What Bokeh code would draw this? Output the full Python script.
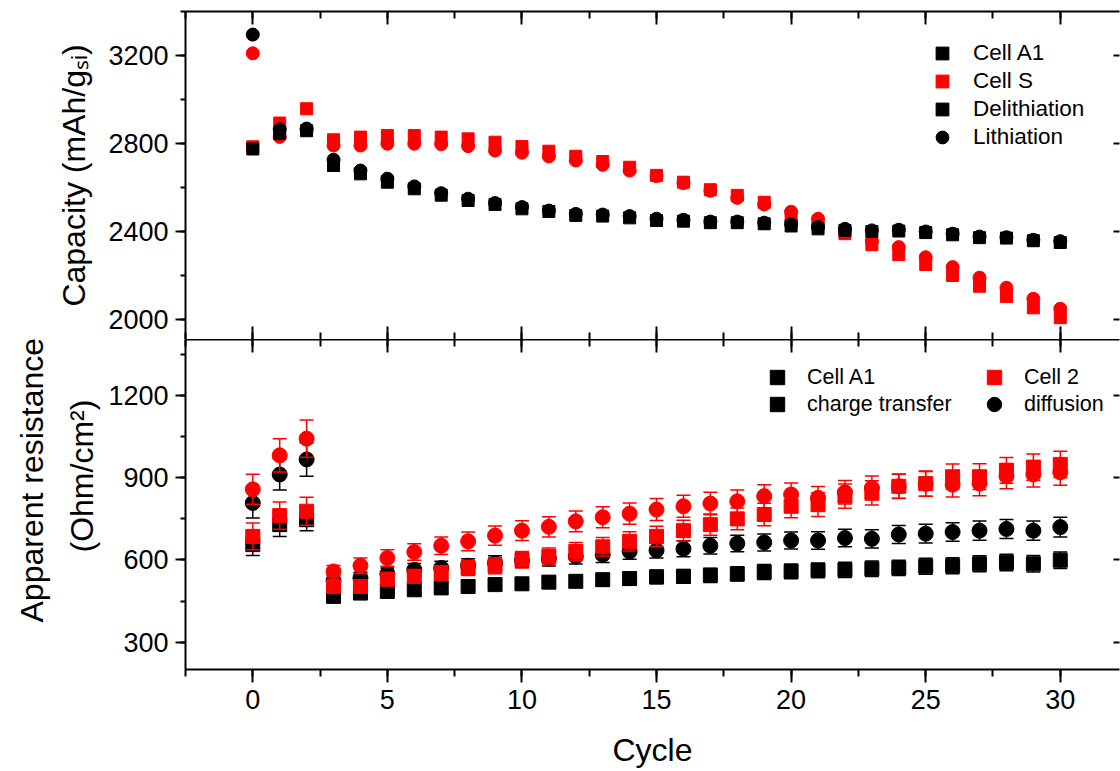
import math
from bokeh.plotting import figure
from bokeh.layouts import column
from bokeh.models import (ColumnDataSource, Whisker, TeeHead, Legend, LegendItem,
                          LinearAxis, SingleIntervalTicker, Range1d, Title)
from bokeh.embed import file_html
from bokeh.resources import INLINE

FONT = "Liberation Sans"
BLACK = "#000000"
RED = "#ff0000"

# ---------------- data ----------------
cycles = list(range(31))

# Capacity (mAh/g_Si)
cap_a1_delith = [2775, 2845, 2858, 2700, 2662, 2624, 2594, 2565, 2541, 2523, 2503,
                 2491, 2473, 2470, 2462, 2450, 2447, 2440, 2440, 2435, 2425,
                 2412, 2405, 2400, 2402, 2395, 2385, 2372, 2370, 2358, 2350]
cap_a1_lith = [3295, 2865, 2868, 2726, 2677, 2640, 2605, 2574, 2549, 2529, 2511,
               2495, 2480, 2477, 2470, 2458, 2453, 2445, 2445, 2440, 2432,
               2420, 2412, 2405, 2408, 2400, 2390, 2377, 2374, 2362, 2356]
cap_s_delith = [2785, 2893, 2958, 2817, 2829, 2836, 2836, 2829, 2821, 2806, 2786,
                2765, 2742, 2718, 2692, 2655, 2624, 2590, 2564, 2533, 2470,
                2430, 2390, 2340, 2295, 2250, 2200, 2151, 2105, 2053, 2008]
cap_s_lith = [3210, 2830, 2862, 2791, 2791, 2799, 2799, 2797, 2788, 2768, 2758,
              2741, 2723, 2703, 2677, 2652, 2620, 2585, 2553, 2523, 2490,
              2458, 2405, 2355, 2329, 2283, 2238, 2190, 2144, 2094, 2049]

# Apparent resistance (Ohm/cm^2)
rct_a1 = [656, 729, 747, 467, 479, 485, 491, 498, 503, 510, 513,
          519, 522, 528, 532, 538, 540, 544, 549, 556, 558,
          562, 564, 568, 571, 577, 579, 586, 591, 586, 599]
rct_a1_err = [40, 43, 40, 15, 16, 17, 18, 19, 20, 20, 21,
              22, 22, 23, 24, 25, 25, 26, 26, 27, 27,
              27, 28, 28, 28, 29, 29, 29, 30, 30, 30]
rdif_a1 = [808, 912, 967, 525, 534, 549, 564, 571, 579, 589, 599,
           605, 613, 619, 631, 635, 641, 652, 660, 664, 671,
           671, 680, 677, 693, 696, 702, 707, 713, 707, 720]
rdif_a1_err = [55, 57, 61, 20, 21, 22, 23, 24, 25, 26, 26,
               27, 28, 28, 28, 28, 29, 30, 30, 31, 31,
               32, 32, 33, 33, 34, 34, 35, 35, 35, 36]
rct_2 = [686, 762, 778, 503, 503, 530, 540, 552, 571, 579, 601,
         613, 631, 648, 668, 686, 707, 729, 750, 766, 796,
         802, 833, 845, 869, 879, 904, 904, 927, 939, 949]
rct_2_err = [49, 50, 51, 20, 22, 24, 25, 27, 28, 29, 30,
             31, 33, 34, 35, 37, 38, 39, 40, 41, 42,
             43, 44, 44, 45, 46, 46, 47, 47, 48, 48]
rdif_2 = [858, 982, 1043, 558, 579, 607, 629, 652, 668, 689, 707,
          721, 741, 756, 769, 784, 796, 806, 814, 833, 839,
          827, 847, 863, 869, 878, 875, 879, 906, 912, 920]
rdif_2_err = [55, 61, 68, 22, 28, 30, 30, 32, 34, 35, 36,
              37, 38, 38, 39, 40, 40, 41, 41, 42, 42,
              41, 43, 44, 44, 45, 45, 45, 46, 46, 47]

x_ticks_interval = 5
cap_ticks_interval = 400
res_ticks_interval = 300


# ---------------- helpers ----------------
def base_fig(y0, y1, frame_h, top, bottom):
    p = figure(frame_width=934, frame_height=frame_h,
               x_range=Range1d(-2.5, 32.2), y_range=Range1d(y0, y1),
               output_backend="svg", toolbar_location=None,
               min_border_left=185, min_border_right=1,
               min_border_top=top, min_border_bottom=bottom)
    p.outline_line_color = None
    p.xgrid.visible = False
    p.ygrid.visible = False
    p.background_fill_color = "white"
    p.border_fill_color = "white"
    return p


def style_axis(ax, major_in, major_out, minor_in, minor_out,
               labels=False, line=True, minor=True):
    ax.axis_line_color = BLACK if line else None
    ax.axis_line_width = 2
    ax.major_tick_line_color = BLACK
    ax.major_tick_line_width = 2
    ax.minor_tick_line_color = BLACK if minor else None
    ax.minor_tick_line_width = 2
    ax.major_tick_in = major_in
    ax.major_tick_out = major_out
    ax.minor_tick_in = minor_in
    ax.minor_tick_out = minor_out
    if labels:
        ax.major_label_text_font = FONT
        ax.major_label_text_font_size = "27px"
        ax.major_label_text_color = BLACK
    else:
        ax.major_label_text_color = None
        ax.major_label_text_font_size = "0px"
        ax.major_label_standoff = 0


def add_legend(p, label, renderer, vx, vy, g, standoff, fs):
    lg = Legend(items=[LegendItem(label=label, renderers=[renderer])],
                location=(vx, vy), glyph_width=g, glyph_height=g,
                label_standoff=standoff, padding=0, spacing=0, margin=0,
                label_text_font=FONT, label_text_font_size=fs,
                label_text_color=BLACK, background_fill_alpha=0,
                border_line_alpha=0)
    p.add_layout(lg)


# ---------------- top panel ----------------
p1 = base_fig(1909, 3400, 328, 11, 0)
p1.xaxis[0].ticker = SingleIntervalTicker(interval=x_ticks_interval, num_minor_ticks=2)
style_axis(p1.xaxis[0], 13, 0, 7, 0, line=False)
p1.yaxis[0].ticker = SingleIntervalTicker(interval=cap_ticks_interval, num_minor_ticks=2)
style_axis(p1.yaxis[0], 0, 10, 0, 5, labels=True)
p1.yaxis[0].major_label_standoff = 7
p1.yaxis[0].axis_label = "Capacity (mAh/g\u209b\u1d62)"
p1.yaxis[0].axis_label_text_font = FONT
p1.yaxis[0].axis_label_text_font_size = "32px"
p1.yaxis[0].axis_label_text_font_style = "normal"
p1.yaxis[0].axis_label_text_color = BLACK
p1.yaxis[0].axis_label_standoff = 13

ax = LinearAxis(ticker=SingleIntervalTicker(interval=x_ticks_interval, num_minor_ticks=2))
style_axis(ax, 13, 0, 7, 0)
p1.add_layout(ax, "above")
ax = LinearAxis(ticker=SingleIntervalTicker(interval=cap_ticks_interval, num_minor_ticks=2))
style_axis(ax, 6, 0, 0, 0, line=False, minor=False)
p1.add_layout(ax, "right")

src_top = ColumnDataSource(dict(cycle=cycles, a1_del=cap_a1_delith, a1_lit=cap_a1_lith,
                                s_del=cap_s_delith, s_lit=cap_s_lith))
r_s_del = p1.scatter("cycle", "s_del", source=src_top, marker="square", size=12,
                     fill_color=RED, line_color=RED)
r_s_lit = p1.scatter("cycle", "s_lit", source=src_top, marker="circle", size=13,
                     fill_color=RED, line_color=RED)
r_a1_del = p1.scatter("cycle", "a1_del", source=src_top, marker="square", size=12,
                      fill_color=BLACK, line_color=BLACK)
r_a1_lit = p1.scatter("cycle", "a1_lit", source=src_top, marker="circle", size=13,
                      fill_color=BLACK, line_color=BLACK)

add_legend(p1, "Cell A1", r_a1_del, 741, 270, 32, 15, "22.5px")
add_legend(p1, "Cell S", r_s_del, 741, 242, 32, 15, "22.5px")
add_legend(p1, "Delithiation", r_a1_del, 741, 214, 32, 15, "22.5px")
add_legend(p1, "Lithiation", r_a1_lit, 741, 186, 32, 15, "22.5px")

# ---------------- bottom panel ----------------
p2 = base_fig(200, 1405, 330, 0, 0)
p2.xaxis[0].ticker = SingleIntervalTicker(interval=x_ticks_interval, num_minor_ticks=2)
style_axis(p2.xaxis[0], 0, 13, 0, 7, labels=True)
p2.xaxis[0].major_label_standoff = 7
p2.xaxis[0].axis_label = "Cycle"
p2.xaxis[0].axis_label_text_font = FONT
p2.xaxis[0].axis_label_text_font_size = "32px"
p2.xaxis[0].axis_label_text_font_style = "normal"
p2.xaxis[0].axis_label_text_color = BLACK
p2.xaxis[0].axis_label_standoff = 20
p2.yaxis[0].ticker = SingleIntervalTicker(interval=res_ticks_interval, num_minor_ticks=2)
style_axis(p2.yaxis[0], 0, 10, 0, 5, labels=True)
p2.yaxis[0].major_label_standoff = 7

ax = LinearAxis(ticker=SingleIntervalTicker(interval=x_ticks_interval, num_minor_ticks=2))
style_axis(ax, 13, 0, 7, 0)
p2.add_layout(ax, "above")
ax = LinearAxis(ticker=SingleIntervalTicker(interval=res_ticks_interval, num_minor_ticks=2))
style_axis(ax, 6, 0, 0, 0, line=False, minor=False)
p2.add_layout(ax, "right")

bot = dict(cycle=cycles)
for name, vals, errs in [("ct_a1", rct_a1, rct_a1_err), ("dif_a1", rdif_a1, rdif_a1_err),
                         ("ct_2", rct_2, rct_2_err), ("dif_2", rdif_2, rdif_2_err)]:
    bot[name] = vals
    bot[name + "_lo"] = [v - e for v, e in zip(vals, errs)]
    bot[name + "_hi"] = [v + e for v, e in zip(vals, errs)]
src_bot = ColumnDataSource(bot)


def series(p, col, marker, size, color):
    w = Whisker(source=src_bot, base="cycle", upper=col + "_hi", lower=col + "_lo",
                line_color=color, line_width=1.5, level="glyph",
                upper_head=TeeHead(size=14, line_color=color, line_width=1.5),
                lower_head=TeeHead(size=14, line_color=color, line_width=1.5))
    p.renderers.append(w)
    return p.scatter("cycle", col, source=src_bot, marker=marker, size=size,
                     fill_color=color, line_color=color)


r_ct_a1 = series(p2, "ct_a1", "square", 14, BLACK)
r_dif_a1 = series(p2, "dif_a1", "circle", 15, BLACK)
r_ct_2 = series(p2, "ct_2", "square", 14, RED)
r_dif_2 = series(p2, "dif_2", "circle", 15, RED)

add_legend(p2, "Cell A1", r_ct_a1, 574, 274, 36, 12, "21.5px")
add_legend(p2, "charge transfer", r_ct_a1, 574, 247, 36, 12, "21.5px")
add_legend(p2, "Cell 2", r_ct_2, 791, 274, 36, 12, "21.5px")
add_legend(p2, "diffusion", r_dif_a1, 791, 247, 36, 12, "21.5px")

# two-line y-axis label of the lower panel (placed as side titles)
for txt, off in [("(Ohm/cm\u00b2)", 117), ("Apparent resistance", 47)]:
    t = Title(text=txt, align="left", offset=off, standoff=12,
              text_font=FONT, text_font_size="32px", text_font_style="normal",
              text_color=BLACK)
    p2.add_layout(t, "left")

layout = column(p1, p2, spacing=0)
with open("out.html", "w") as f:
    f.write(file_html(layout, INLINE))
